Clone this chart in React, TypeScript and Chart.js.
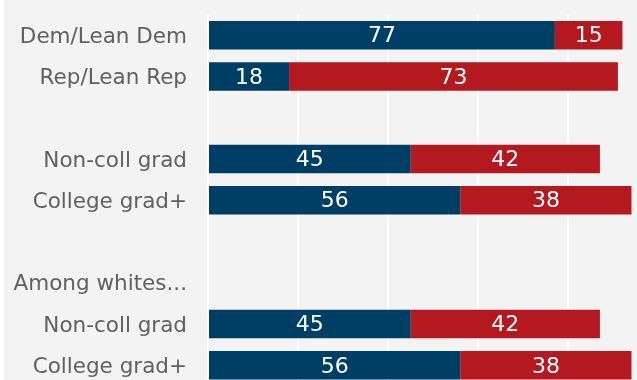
import React, { useEffect, useRef } from "react";
import { Chart, registerables } from "chart.js";

Chart.register(...registerables);

const categories = [
  "Dem/Lean Dem",
  "Rep/Lean Rep",
  "",
  "Non-coll grad",
  "College grad+",
  "",
  "Among whites...",
  "Non-coll grad",
  "College grad+",
];
const blueValues = [77, 18, null, 45, 56, null, null, 45, 56];
const redValues = [15, 73, null, 42, 38, null, null, 42, 38];
const xTicks = [0, 20, 40, 60, 80, 100];

const BLUE = "#003f65";
const RED = "#b4191f";
const FONT = "'DejaVu Sans', sans-serif";

const bgPlugin = {
  id: "bgPlugin",
  beforeDraw(chart: any) {
    const ctx = chart.ctx;
    ctx.save();
    ctx.fillStyle = "#f3f3f3";
    ctx.fillRect(4, 0, chart.width - 4, chart.height);
    ctx.restore();
  },
};

const labelPlugin = {
  id: "labelPlugin",
  afterDatasetsDraw(chart: any) {
    const ctx = chart.ctx;
    ctx.save();
    ctx.fillStyle = "#ffffff";
    ctx.font = `22px ${FONT}`;
    ctx.textAlign = "center";
    ctx.textBaseline = "middle";
    chart.data.datasets.forEach((ds: any, di: number) => {
      const meta = chart.getDatasetMeta(di);
      meta.data.forEach((el: any, i: number) => {
        const v = ds.data[i];
        if (v === null || v === undefined) return;
        const cx = (el.x + el.base) / 2;
        ctx.fillText(String(v), cx, el.y + 1.5);
      });
    });
    ctx.restore();
  },
};

export default function App() {
  const ref = useRef<HTMLCanvasElement | null>(null);
  useEffect(() => {
    if (!ref.current) return;
    const chart = new Chart(ref.current, {
      type: "bar",
      data: {
        labels: categories,
        datasets: [
          {
            data: blueValues as any,
            backgroundColor: BLUE,
            barPercentage: 0.69,
            categoryPercentage: 1,
          },
          {
            data: redValues as any,
            backgroundColor: RED,
            barPercentage: 0.69,
            categoryPercentage: 1,
          },
        ],
      },
      options: {
        indexAxis: "y",
        responsive: false,
        animation: false,
        devicePixelRatio: 1,
        layout: { padding: { top: 14.5, right: 6.5, bottom: 9, left: 0 } },
        plugins: {
          legend: { display: false },
          tooltip: { enabled: false },
        },
        scales: {
          x: {
            stacked: true,
            min: 0,
            max: 100,
            afterBuildTicks: (scale: any) => {
              scale.ticks = xTicks.map((v) => ({ value: v }));
            },
            afterFit: (scale: any) => {
              scale.height = 0;
              scale.paddingLeft = 0;
              scale.paddingRight = 0;
            },
            ticks: { display: false },
            grid: { color: "#ffffff", lineWidth: 2, drawTicks: false },
            border: { display: false },
          },
          y: {
            stacked: true,
            afterFit: (scale: any) => {
              scale.width = 208;
              scale.paddingTop = 0;
              scale.paddingBottom = 0;
            },
            ticks: {
              padding: 21,
              labelOffset: 2,
              color: "#606060",
              font: { family: FONT, size: 21.5 },
            },
            grid: { display: false, drawTicks: false },
            border: { display: false },
          },
        },
      },
      plugins: [bgPlugin, labelPlugin],
    });
    return () => chart.destroy();
  }, []);
  return (
    <div
      style={{
        position: "fixed",
        left: 0,
        top: 0,
        width: 637,
        height: 380,
        overflow: "hidden",
        background: "#ffffff",
      }}
    >
      <canvas ref={ref} width={665} height={395} style={{ display: "block" }} />
    </div>
  );
}
